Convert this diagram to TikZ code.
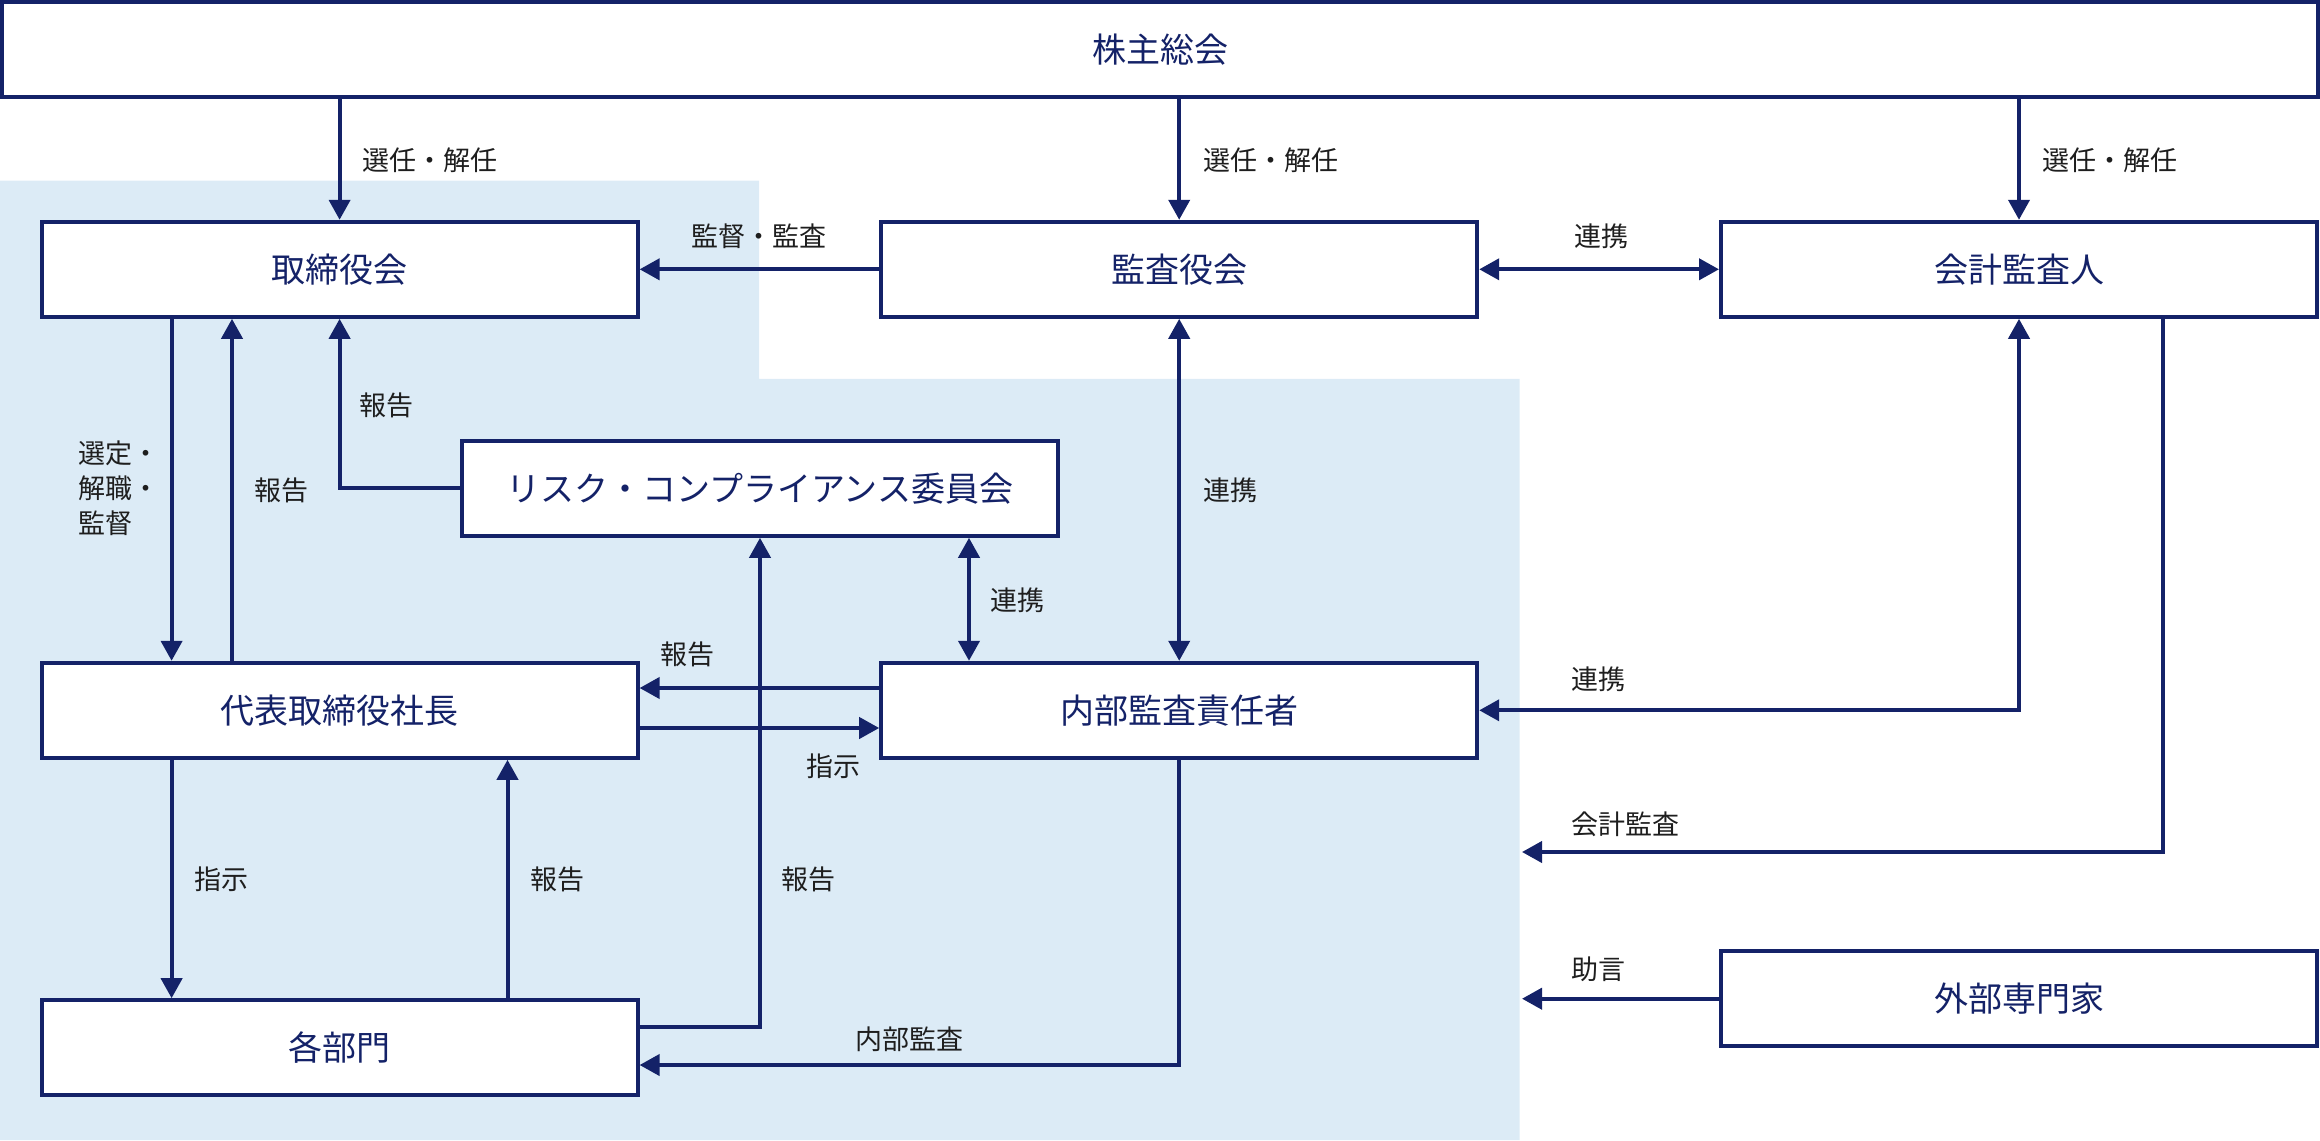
\documentclass[tikz,border=0pt]{standalone}
\usepackage{fontspec}
\setmainfont{Noto Sans CJK JP}
\usetikzlibrary{arrows.meta}
\definecolor{navy}{RGB}{20,34,104}
\definecolor{pale}{RGB}{220,235,246}
\definecolor{ink}{RGB}{30,30,30}
\begin{document}
\begin{tikzpicture}[x=1pt,y=-1pt,
 box/.style={draw=navy,line width=4pt,fill=white,minimum width=596pt,minimum height=95pt,inner sep=0pt,text=navy,font=\fontsize{34}{40}\selectfont},
 lab/.style={text=ink,font=\fontsize{27}{35}\selectfont,inner sep=0pt,anchor=west},
 arr/.style={draw=navy,line width=4pt,-{Triangle[length=20pt,width=21pt]}},
 darr/.style={draw=navy,line width=4pt,{Triangle[length=20pt,width=21pt]}-{Triangle[length=20pt,width=21pt]}}]
\useasboundingbox (0,0) rectangle (2320,1140);
\fill[pale] (0,180.5) -- (759,180.5) -- (759,378.8) -- (1519.6,378.8) -- (1519.6,1140) -- (0,1140) -- cycle;

\node[box,minimum width=2316pt] (gm) at (1160,49.5) {株主総会};
\node[box] (bd) at (339.6,269.3) {取締役会};
\node[box] (ac) at (1179.2,269.3) {監査役会};
\node[box] (ca) at (2019,269.3) {会計監査人};
\node[box] (rc) at (760,488.3) {リスク・コンプライアンス委員会};
\node[box] (ceo) at (339.6,710.3) {代表取締役社長};
\node[box] (ia) at (1179.2,710.3) {内部監査責任者};
\node[box] (dp) at (339.6,1047.7) {各部門};
\node[box] (ex) at (2019,998.7) {外部専門家};

\coordinate (x1) at (171.6,0);
\coordinate (x2) at (232,0);
\coordinate (x3) at (969,0);
\coordinate (x4) at (507.5,0);
\coordinate (x5) at (2163,0);
\coordinate (y1) at (0,1027);
\coordinate (y2) at (0,688);
\coordinate (y3) at (0,728);
\coordinate (y4) at (0,1065);
\coordinate (fa) at (1522,852);
\coordinate (fb) at (1522,998.7);

\draw[arr] (gm.south -| bd.north) -- (bd.north);
\draw[arr] (gm.south -| ac.north) -- (ac.north);
\draw[arr] (gm.south -| ca.north) -- (ca.north);
\draw[arr] (ac.west) -- (bd.east);
\draw[darr] (ac.east) -- (ca.west);
\draw[darr] (ia.north) -- (ac.south);
\draw[arr] (bd.south -| x1) -- (ceo.north -| x1);
\draw[arr] (ceo.north -| x2) -- (bd.south -| x2);
\draw[arr] (rc.west) -| (bd.south);
\draw[arr] (dp.east |- y1) -| (rc.south);
\draw[darr] (rc.south -| x3) -- (ia.north -| x3);
\draw[arr] (ia.west |- y2) -- (ceo.east |- y2);
\draw[arr] (ceo.east |- y3) -- (ia.west |- y3);
\draw[arr] (ceo.south -| x1) -- (dp.north -| x1);
\draw[arr] (dp.north -| x4) -- (ceo.south -| x4);
\draw[arr] (ia.south) |- (dp.east |- y4);
\draw[darr] (ia.east) -| (ca.south);
\draw[arr] (ca.south -| x5) |- (fa);
\draw[arr] (ex.west) -- (fb);

\node[lab] (t1) at (362,160) {選任・解任};
\node[lab] (t2) at (1203,160) {選任・解任};
\node[lab] (t3) at (2042,160) {選任・解任};
\node[lab,anchor=center] (t4) at (759,236.7) {監督・監査};
\node[lab,anchor=center] (t5) at (1601,236.7) {連携};
\node[lab] (t6) at (1203,490) {連携};
\node[lab,align=left] (t7) at (78,488) {選定・\\解職・\\監督};
\node[lab] (t8) at (254.5,490) {報告};
\node[lab] (t9) at (359.5,405) {報告};
\node[lab] (t10) at (990,600.7) {連携};
\node[lab] (t11) at (660,654) {報告};
\node[lab] (t12) at (806,766) {指示};
\node[lab] (t13) at (194,879) {指示};
\node[lab] (t14) at (530,879) {報告};
\node[lab] (t15) at (781,879) {報告};
\node[lab] (t16) at (855,1039) {内部監査};
\node[lab] (t17) at (1571,679) {連携};
\node[lab] (t18) at (1571,824) {会計監査};
\node[lab] (t19) at (1571,969) {助言};
\end{tikzpicture}
\end{document}
